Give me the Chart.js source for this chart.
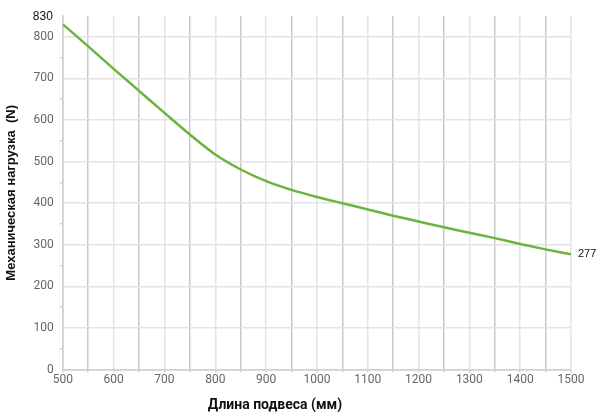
<!DOCTYPE html>
<html>
<head>
<meta charset="utf-8">
<script src="https://cdn.jsdelivr.net/npm/chart.js@4"></script>
<style>
  html, body { margin: 0; padding: 0; background: #fff; }
</style>
</head>
<body>
<canvas id="myChart" width="596" height="412"></canvas>
<script>
// длина подвеса (мм)
const lengths = [500, 550, 600, 650, 700, 750, 800, 850, 900, 950, 1000,
                 1050, 1100, 1150, 1200, 1250, 1300, 1350, 1400, 1450, 1500];
// механическая нагрузка (N)
const loads = [830, 777, 723, 670, 617, 565, 517, 481, 453, 432, 415,
               400, 385, 370, 356, 342, 329, 316, 302, 289, 277];

const xTicks = [500, 600, 700, 800, 900, 1000, 1100, 1200, 1300, 1400, 1500];
const yTicks = [0, 100, 200, 300, 400, 500, 600, 700, 800];

const xTitle = 'Длина подвеса (мм)';

// подписи первого и последнего значения + название оси X
const extraText = {
  id: 'extraText',
  afterDatasetsDraw(chart) {
    const pts = chart.getDatasetMeta(0).data;
    const c = chart.ctx;
    c.save();
    c.fillStyle = '#111';
    c.font = '12px "Liberation Sans", Arial, sans-serif';
    c.textBaseline = 'middle';
    c.textAlign = 'right';
    c.fillText(String(loads[0]), pts[0].x - 10, pts[0].y - 8);
    const last = pts[pts.length - 1];
    c.textAlign = 'left';
    c.font = '11px "Liberation Sans", Arial, sans-serif';
    c.fillText(String(loads[loads.length - 1]), last.x + 7, last.y);

    // название оси X (в оригинале смещено влево от центра)
    c.textAlign = 'center';
    c.font = 'bold 14px Roboto, sans-serif';
    c.fillText(xTitle, 275, 405);
    c.restore();
  }
};

const ctx = document.getElementById('myChart');

new Chart(ctx, {
  type: 'line',
  data: {
    labels: lengths,
    datasets: [{
      data: lengths.map((x, i) => ({ x: x, y: loads[i] })),
      borderColor: '#6db33f',
      borderWidth: 2.5,
      pointRadius: 0,
      fill: false,
      tension: 0.4,
      cubicInterpolationMode: 'monotone'
    }]
  },
  options: {
    responsive: false,
    animation: false,
    layout: { padding: { top: 16, right: 25, left: 4, bottom: 25 } },
    plugins: {
      legend: { display: false },
      tooltip: { enabled: false }
    },
    scales: {
      x: {
        type: 'linear',
        min: 500,
        max: 1500,
        afterBuildTicks: (axis) => {
          const t = [];
          for (let v = 500; v <= 1500; v += 50) t.push({ value: v });
          axis.ticks = t;
        },
        grid: {
          color: (c) => {
            const v = c.tick ? c.tick.value : 0;
            if (v === 500) return '#d0d0d0';
            return (v % 100 === 50) ? '#c9c9c9' : '#e4e4e4';
          },
          lineWidth: 1.5,
          tickLength: 3,
          tickColor: '#d0d0d0'
        },
        border: { color: '#d0d0d0', width: 1.5 },
        ticks: {
          autoSkip: false,
          maxRotation: 0,
          color: '#666',
          padding: 0,
          font: { family: 'Roboto, sans-serif', size: 12 },
          callback: (v) => (xTicks.includes(v) ? String(v) : '')
        }
      },
      y: {
        min: 0,
        max: 850,
        afterBuildTicks: (axis) => {
          const t = [];
          for (let v = 0; v <= 800; v += 50) t.push({ value: v });
          axis.ticks = t;
        },
        grid: {
          color: (c) => {
            const v = c.tick ? c.tick.value : 0;
            if (v === 0) return '#d0d0d0';
            return yTicks.includes(v) ? '#e4e4e4' : 'rgba(0,0,0,0)';
          },
          lineWidth: 1.5,
          tickLength: 3,
          tickColor: (c) => (c.tick && yTicks.includes(c.tick.value) ? 'rgba(0,0,0,0)' : '#d0d0d0')
        },
        border: { color: '#d0d0d0', width: 1.5 },
        ticks: {
          color: '#666',
          padding: 6,
          font: { family: 'Roboto, sans-serif', size: 12 },
          callback: (v) => (yTicks.includes(v) ? String(v) : '')
        },
        title: {
          display: true,
          text: 'Механическая нагрузка  (N)',
          color: '#111',
          font: { family: '"Liberation Sans", Arial, sans-serif', size: 13, weight: 'bold' },
          padding: { top: 0, bottom: 8 }
        }
      }
    }
  },
  plugins: [extraText]
});
</script>
</body>
</html>
